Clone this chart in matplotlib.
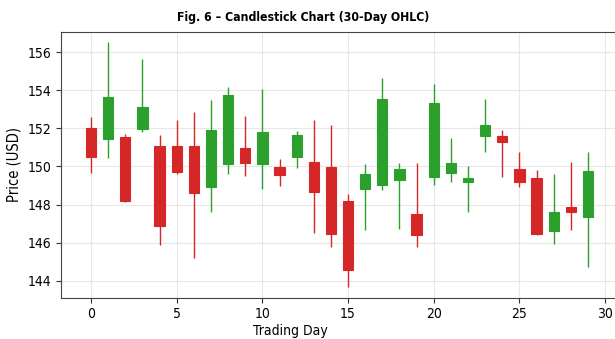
import numpy as np
import matplotlib.pyplot as plt

# OHLC values, one per trading day
days = np.arange(30)
opens = [152.05, 151.46, 151.56, 151.96, 151.09, 151.09, 151.09, 148.91, 150.14, 150.95,
         150.11, 149.95, 150.51, 150.23, 149.95, 148.19, 148.84, 149.00, 149.30, 147.51,
         149.47, 149.65, 149.16, 151.61, 151.61, 149.86, 149.37, 146.58, 147.86, 147.35]
closes = [150.51, 153.67, 148.16, 153.12, 146.86, 149.70, 148.61, 151.93, 153.74, 150.18,
          151.84, 149.53, 151.68, 148.68, 146.47, 144.56, 149.63, 153.54, 149.89, 146.40,
          153.33, 150.16, 149.42, 152.16, 151.28, 149.19, 146.44, 147.61, 147.63, 149.75]
highs = [152.60, 156.53, 151.70, 155.67, 151.67, 152.46, 152.88, 153.49, 154.18, 152.68,
         154.09, 150.39, 151.86, 152.42, 152.19, 148.53, 150.12, 154.65, 150.18, 150.16,
         154.33, 151.51, 150.05, 153.54, 151.93, 150.74, 149.82, 149.58, 150.21, 150.77]
lows = [149.65, 150.44, 148.12, 151.84, 145.88, 149.60, 145.19, 147.60, 149.63, 149.51,
        148.79, 148.98, 149.93, 146.51, 145.74, 143.67, 146.68, 148.74, 146.72, 145.75,
        149.02, 149.19, 147.60, 150.77, 149.46, 148.91, 146.40, 145.93, 146.67, 144.72]

opens = np.array(opens)
closes = np.array(closes)
highs = np.array(highs)
lows = np.array(lows)

up = closes >= opens
colors = np.where(up, '#2ca02c', '#d62728')

fig = plt.figure(figsize=(6.15, 3.39), dpi=100)
ax = fig.add_axes([61 / 615, 0.122, 557 / 615, 0.785])

# wicks first, then bodies on top
ax.vlines(days, lows, highs, colors=colors, linewidth=1.0, zorder=2)
ax.bar(days, np.abs(closes - opens), bottom=np.minimum(opens, closes), width=0.6,
       color=colors, edgecolor=colors, linewidth=0.8, zorder=3)

ax.set_xlim(-1.75, 30.75)
ax.set_ylim(143.1, 157.1)
ax.set_xticks(np.arange(0, 31, 5))
ax.set_yticks(np.arange(144, 157, 2))
ax.tick_params(labelsize=10, length=3.5, color='#333333')
for lab in ax.get_xticklabels() + ax.get_yticklabels():
    lab.set_fontstretch('condensed')
ax.grid(True, color='#dddddd', linewidth=0.8, alpha=0.7)
ax.set_axisbelow(True)
for s in ax.spines.values():
    s.set_color('#444444')

ax.set_xlabel('Trading Day', fontsize=10, fontstretch='condensed')
ax.xaxis.set_label_coords((290 - 61) / 557, -0.10)
ax.set_ylabel('Price (USD)', fontsize=10.5, fontstretch='condensed')
fig.text(303 / 615, 1 - 17 / 339, 'Fig. 6 – Candlestick Chart (30-Day OHLC)', fontsize=8.8,
         fontweight='bold', fontstretch='condensed', ha='center', va='center')

fig.savefig('out.png', dpi=100)
